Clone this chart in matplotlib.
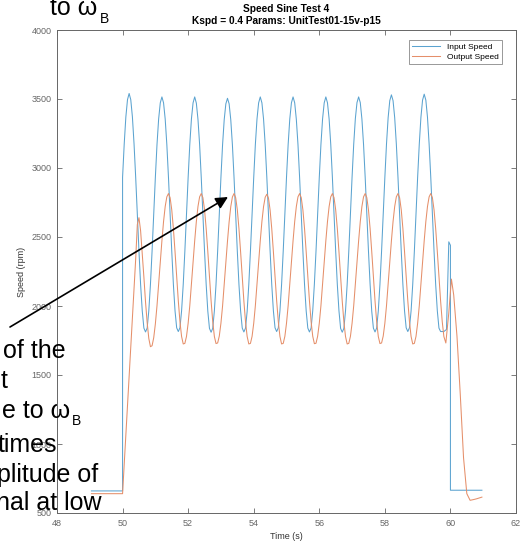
import numpy as np
import matplotlib.pyplot as plt

plt.rcParams['font.family'] = ['Liberation Sans', 'DejaVu Sans']

# logged sample grid for the sine part (s): 50.05 ... 59.80
t_grid = np.round(np.arange(50.05, 59.81, 0.05), 2)

# Input speed (rpm) on the grid, one row per 1 s cycle
input_grid = [
    3174, 3370, 3495, 3540, 3495, 3370, 3174, 2932, 2665, 2398, 2156, 1965, 1840, 1812, 1840, 1965, 2156, 2398, 2665, 2932,
    3170, 3355, 3472, 3515, 3472, 3355, 3170, 2932, 2665, 2398, 2156, 1965, 1842, 1815, 1842, 1965, 2156, 2398, 2665, 2932,
    3170, 3355, 3472, 3515, 3470, 3352, 3170, 2930, 2665, 2398, 2156, 1962, 1838, 1810, 1838, 1965, 2156, 2398, 2665, 2932,
    3168, 3350, 3465, 3505, 3465, 3350, 3168, 2930, 2662, 2396, 2155, 1965, 1840, 1812, 1840, 1962, 2156, 2398, 2665, 2930,
    3170, 3355, 3472, 3515, 3472, 3355, 3170, 2932, 2665, 2398, 2156, 1965, 1842, 1815, 1842, 1965, 2156, 2398, 2665, 2932,
    3170, 3355, 3472, 3515, 3472, 3352, 3170, 2930, 2665, 2398, 2156, 1965, 1840, 1812, 1840, 1965, 2158, 2398, 2665, 2932,
    3170, 3355, 3472, 3515, 3472, 3355, 3170, 2930, 2665, 2398, 2156, 1965, 1838, 1810, 1838, 1965, 2156, 2398, 2665, 2934,
    3172, 3358, 3474, 3515, 3474, 3355, 3170, 2932, 2665, 2398, 2156, 1962, 1840, 1812, 1840, 1965, 2156, 2398, 2665, 2932,
    3174, 3365, 3488, 3530, 3488, 3365, 3174, 2934, 2665, 2398, 2156, 1965, 1842, 1815, 1842, 1965, 2156, 2398, 2665, 2934,
    3174, 3368, 3492, 3535, 3492, 3368, 3174, 2934, 2665, 2398, 2156, 1965, 1840, 1815, 1815, 1815,
]
# Output speed (rpm) on the grid
output_grid = [
    850, 1065, 1280, 1490, 1705, 1915, 2130, 2340, 2590, 2640, 2545, 2380, 2210, 2030, 1880, 1765, 1705, 1712, 1770, 1870,
    2002, 2155, 2316, 2473, 2612, 2721, 2791, 2815, 2785, 2697, 2561, 2394, 2213, 2037, 1887, 1779, 1725, 1729, 1780, 1875,
    2002, 2155, 2316, 2473, 2612, 2721, 2791, 2815, 2785, 2697, 2561, 2394, 2213, 2037, 1887, 1779, 1728, 1732, 1782, 1875,
    2000, 2152, 2314, 2470, 2610, 2720, 2790, 2815, 2785, 2697, 2560, 2392, 2212, 2035, 1885, 1779, 1725, 1729, 1780, 1874,
    2002, 2155, 2316, 2473, 2612, 2720, 2788, 2810, 2782, 2695, 2561, 2394, 2213, 2037, 1887, 1779, 1725, 1729, 1780, 1875,
    2002, 2155, 2316, 2473, 2612, 2721, 2791, 2815, 2785, 2697, 2561, 2394, 2213, 2037, 1887, 1781, 1727, 1730, 1781, 1875,
    2002, 2155, 2316, 2473, 2612, 2721, 2791, 2815, 2785, 2697, 2561, 2394, 2211, 2035, 1886, 1779, 1725, 1729, 1780, 1875,
    2002, 2155, 2316, 2473, 2612, 2721, 2791, 2815, 2785, 2697, 2561, 2394, 2213, 2037, 1887, 1779, 1728, 1732, 1782, 1875,
    2002, 2155, 2316, 2473, 2612, 2721, 2791, 2815, 2785, 2697, 2561, 2394, 2213, 2037, 1887, 1779, 1725, 1729, 1780, 1875,
    2002, 2155, 2316, 2473, 2612, 2721, 2791, 2815, 2785, 2697, 2561, 2394, 2213, 2037, 1887, 1779,
]

# start and end of the run
input_pre_t = [49.05, 50.0, 50.0]
input_pre_v = [660, 660, 2932]
input_post_t = [59.88, 59.95, 60.0, 60.0, 60.96]
input_post_v = [1830, 2465, 2440, 665, 665]

output_pre_t = [49.05, 50.0]
output_pre_v = [640, 640]
output_post_t = [59.86, 59.95, 60.03, 60.1, 60.2, 60.3, 60.4, 60.5, 60.6, 60.7, 60.8, 60.96]
output_post_v = [1732, 1950, 2195, 2080, 1780, 1360, 900, 640, 592, 597, 603, 615]

t_in = np.concatenate([input_pre_t, t_grid, input_post_t])
v_in = np.concatenate([input_pre_v, input_grid, input_post_v])
t_out = np.concatenate([output_pre_t, t_grid, output_post_t])
v_out = np.concatenate([output_pre_v, output_grid, output_post_v])

W, H = 520, 548
fig = plt.figure(figsize=(W / 100, H / 100), dpi=100)
ax = fig.add_axes([57 / W, 35 / H, 459 / W, 483 / H])

ax.plot(t_in, v_in, color='#5ba3d0', lw=0.75, label='Input Speed')
ax.plot(t_out, v_out, color='#e58f6a', lw=0.75, label='Output Speed')

ax.set_xlim(48, 62)
ax.set_ylim(500, 4000)
ax.set_xticks(np.arange(48, 63, 2))
ax.set_yticks(np.arange(500, 4001, 500))

gray = '#666666'
for s in ax.spines.values():
    s.set_color(gray)
    s.set_linewidth(0.7)
ax.tick_params(direction='in', length=3.5, width=0.6, colors=gray,
               labelsize=6.5, top=True, right=True, pad=4)
ax.set_xlabel('Time (s)', fontsize=6.5, color='#333333', labelpad=3)
ax.set_ylabel('Speed (rpm)', fontsize=6.5, color='#333333', labelpad=4)

leg = ax.legend(loc='upper right', bbox_to_anchor=(0.969, 0.979), fontsize=6,
                frameon=True, fancybox=False, framealpha=1, borderaxespad=0,
                handlelength=3.4, borderpad=0.35, labelspacing=0.25)
leg.get_frame().set_edgecolor('#888888')
leg.get_frame().set_linewidth(0.6)

# title (two bold lines)
cx = 286.5 / W
fig.text(cx, 1 - 12 / H, 'Speed Sine Test 4', ha='center', va='baseline',
         fontsize=7.3, fontweight='bold')
fig.text(cx, 1 - 24 / H, 'Kspd = 0.4 Params: UnitTest01-15v-p15', ha='center',
         va='baseline', fontsize=7.3, fontweight='bold')

# slide text laid over the figure
def px_text(x, y, s, size=18):
    fig.text(x / W, 1 - y / H, s, ha='left', va='baseline', fontsize=size, color='black')

px_text(50, 15, 'to ω')
px_text(100, 23, 'B', size=10)
px_text(3, 358, 'of the')
px_text(1, 388, 't')
px_text(2, 418, 'e to ω')
px_text(72, 425, 'B', size=10)
px_text(-2, 452, 'times')
px_text(-3, 482, 'plitude of')
px_text(-4, 510, 'nal at low')

ax.annotate('', xy=(228, H - 197), xycoords='figure pixels',
            xytext=(10, H - 327), textcoords='figure pixels',
            arrowprops=dict(arrowstyle='-|>', mutation_scale=18, lw=1.2,
                            color='black', shrinkA=0, shrinkB=0),
            annotation_clip=False)

fig.savefig('out.png', dpi=100)
